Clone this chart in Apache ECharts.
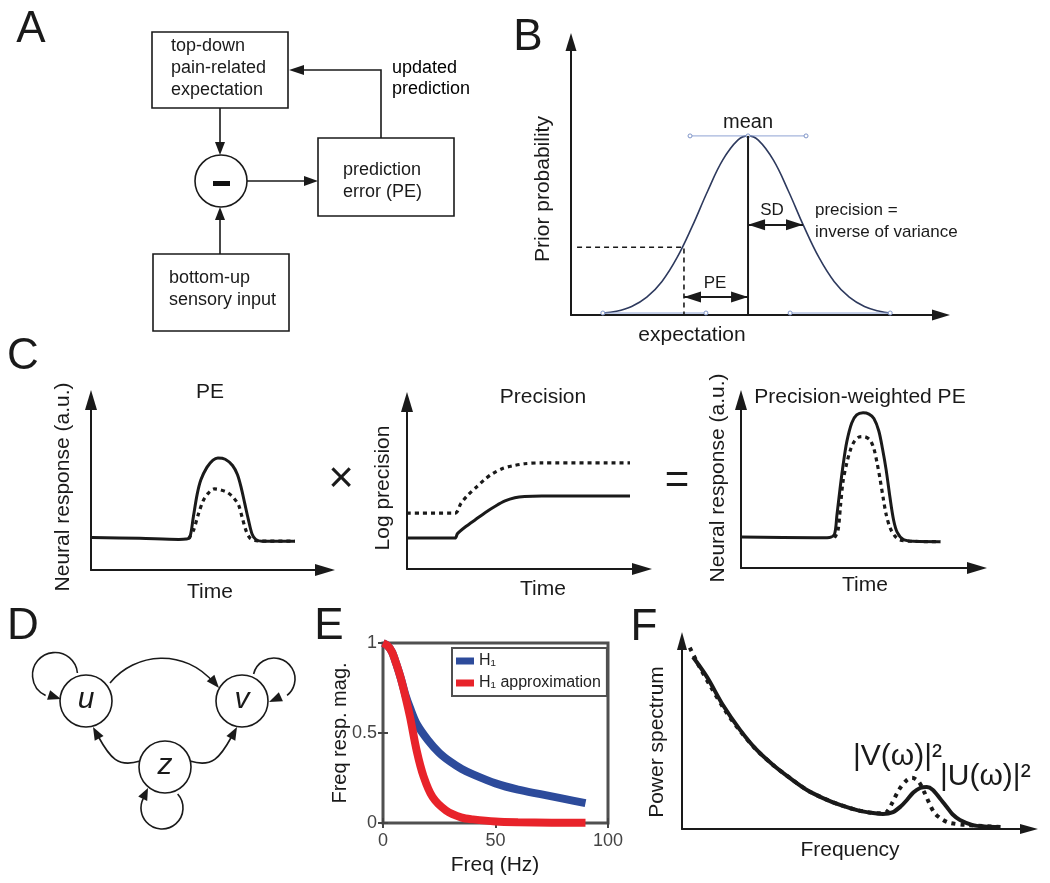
<!DOCTYPE html>
<html><head><meta charset="utf-8">
<script src="https://cdn.jsdelivr.net/npm/echarts@6/dist/echarts.min.js"></script>
<style>html,body{margin:0;padding:0;background:#fff}#c{width:1050px;height:883px}</style>
</head><body><div id="c"></div>
<script>
// ---------- DATA ----------
// Panel B: prior distribution
const priorX = [8.4,12,16,20,24,28,32,36,40,44,46.7,49.4,53.4,57.4,61.4,65.4,69.4,73.4,77.4,81.4,84.2];
const priorY = [0.7,1.3,3.0,6.3,11.9,20.4,31.5,43.8,54.9,62.0,63.5,62.0,54.9,43.8,31.5,20.4,11.9,6.3,3.0,1.3,0.7];
const handleTop = [[31.4,63.5],[46.7,63.5],[62,63.5]];
const handleLeft = [[8.4,0.7],[35.6,0.7]];
const handleRight = [[57.8,0.7],[84.2,0.7]];
const meanX = 46.7, meanY = 63.5;
const expectX = 29.8, expectY = 24, expectStartX = 1.6;
const peArrowY = 6.4, sdArrowY = 32, sdEndX = 61.2;

// Panel C: PE
const pe1Solid = [[0.4,18],[20,17.6],[36,17],[39,17.2],[40.5,18],[42,30],[43.5,42],[45,50],[47.5,57],[50,61],[52,62.2],[55,61.5],[58,58],[60,53],[61.5,46],[63,37],[64.5,28],[66,20],[67.5,17],[70,16],[83.6,16]];
const pe1Dashed = [[40,17.5],[42,22],[44,31],[46,38.5],[48,42.5],[50.5,45],[53,44.5],[56,43],[58.5,40],[60.5,36],[62,29],[63.5,22],[65,18],[67,16.5],[70,16],[83.6,16]];
// Panel C: precision
const precSolid = [[0,17.5],[19.6,17.5],[20.6,20],[24,24],[28,28],[32,32],[36,35.5],[40,38.5],[44,40.3],[48,41],[55,41.3],[91,41.3]];
const precDashed = [[0,31.6],[19.6,31.6],[22,37],[25,42],[28.5,46.5],[32,51],[35,54],[39,56.8],[43,58.3],[48,59.5],[55,60],[91,60]];
// Panel C: precision-weighted PE
const pwSolid = [[0,17.4],[30,17],[36,17.2],[38,19],[39,30],[40.2,44],[41.5,58],[43,71],[45,81.5],[47,86],[49.6,87.2],[52,86.5],[54,84],[56,77],[57.5,67],[59,55],[60.5,40],[62,27],[63.5,20],[66,16],[70,15],[81,14.8]];
const pwDashed = [[38,17],[39.4,21],[40.5,36],[41.5,49],[43,59],[44.5,66.5],[46,71],[48,73.6],[50,73.8],[52.4,72],[54,67],[55.3,59],[56.5,50],[57.7,40],[59,30],[60.6,22.5],[62.5,18],[64.6,15.7],[70,15],[81,14.8]];

// Panel E: frequency response
const h1Freq = [0,2,4,6,8,10,12,15,20,25,30,35,40,50,60,70,80,90];
const h1Mag  = [1,0.985,0.95,0.88,0.8,0.71,0.64,0.55,0.46,0.39,0.34,0.3,0.27,0.22,0.185,0.16,0.135,0.11];
const h1aFreq = [0,2,4,6,8,10,12,15,18,22,28,35,40,50,60,75,90];
const h1aMag  = [1,0.985,0.95,0.88,0.8,0.7,0.59,0.4,0.26,0.145,0.07,0.03,0.02,0.008,0.004,0.002,0.001];
const eXTicks = [0, 50, 100];
const eYTicks = [0, 0.5, 1];

// Panel F: power spectra
const uSpec = [[3.1,87.3],[7,77.2],[11.5,62.9],[16.3,50.3],[21,40.1],[25.6,32.5],[30.3,25.9],[35.1,19.8],[39.6,15.7],[44.4,12.2],[49.2,9.6],[53.7,8.1],[56.5,7.6],[59.3,8.6],[61.5,11.5],[63.2,14.7],[65,18.5],[66.9,20.8],[68.8,21.3],[70.5,19.8],[72.5,15.5],[74.4,11.2],[76,7.5],[78.1,4.6],[81.7,2],[85,1.3],[89.3,1]];
const vSpec = [[2.2,92],[5,82],[8,72.5],[12,60.5],[16,50.5],[21,40],[25.6,32.5],[30.3,25.9],[35.1,19.8],[39.6,15.7],[44.4,12.2],[49.2,9.6],[53,8.3],[56,8],[57.6,8.8],[59,13],[61,20],[63,24.5],[64.6,26],[66.5,24],[68,19],[69.5,13],[71,8],[73,5],[75,3.2],[80,2],[90.2,1]];

// ---------- STYLE / HELPERS ----------
const FONT = "'Liberation Sans', Arial, sans-serif";
const INK = '#1a1a1a';
const zip = (xs, ys) => xs.map((x, i) => [x, ys[i]]);

function txt(x, y, s, size, o) {
  o = o || {};
  return {type:'text', x:x, y:y, rotation:o.rot || 0, z:50,
    style:{text:s, fontSize:size, fontFamily:FONT, fill:o.color || INK,
      fontStyle:o.italic ? 'italic' : 'normal', fontWeight:o.weight || 'normal',
      align:o.align || 'left', verticalAlign:'middle'}};
}
function head(tx, ty, ux, uy, L, W) {
  const n = Math.hypot(ux, uy); ux /= n; uy /= n;
  return {type:'polygon', z:50, shape:{points:[[tx,ty],[tx-ux*L-uy*W, ty-uy*L+ux*W],[tx-ux*L+uy*W, ty-uy*L-ux*W]]}, style:{fill:INK}};
}
function seg(pts) {
  return {type:'polyline', z:50, shape:{points:pts}, style:{stroke:INK, lineWidth:1.6, fill:null}};
}
function box(x, y, w, h) {
  return {type:'rect', z:49, shape:{x:x, y:y, width:w, height:h}, style:{fill:'#fff', stroke:INK, lineWidth:1.6}};
}
function circ(cx, cy, r) {
  return {type:'circle', z:49, shape:{cx:cx, cy:cy, r:r}, style:{fill:'#fff', stroke:INK, lineWidth:1.6}};
}
function bez(p0, c1, c2, p3) {
  return {type:'bezierCurve', z:50, shape:{x1:p0[0], y1:p0[1], cpx1:c1[0], cpy1:c1[1], cpx2:c2[0], cpy2:c2[1], x2:p3[0], y2:p3[1]},
    style:{stroke:INK, lineWidth:1.6, fill:null}};
}
function arc(cx, cy, r, a0, a1, cw) {
  return {type:'arc', z:50, shape:{cx:cx, cy:cy, r:r, startAngle:a0, endAngle:a1, clockwise:cw},
    style:{stroke:INK, lineWidth:1.6, fill:null}};
}

function arrowAxis(gridIndex, max, size) {
  return {type:'value', gridIndex:gridIndex, min:0, max:max,
    axisLine:{show:true, onZero:false, symbol:['none','triangle'], symbolSize:size, lineStyle:{color:INK, width:2}},
    axisTick:{show:false}, axisLabel:{show:false}, splitLine:{show:false}};
}
function line(xi, data, dashed, width, color) {
  return {type:'line', xAxisIndex:xi, yAxisIndex:xi, data:data, showSymbol:false, symbol:'none', smooth:0.3,
    lineStyle:{color:color || INK, width:width, type:dashed || 'solid', cap:'butt'}, silent:true, z:3};
}

// ---------- GRAPHICS (diagrams A, D and free text) ----------
const g = [];
// panel letters
[['A',31,30],['B',528,38],['C',23,357],['D',23,627],['E',329,627],['F',644,628]].forEach(l => g.push(txt(l[1], l[2], l[0], 44, {align:'center'})));

// Panel A
g.push(box(152,32,136,76), box(318,138,136,78), box(153,254,136,77), circ(221,181,26));
g.push({type:'rect', z:51, shape:{x:213, y:181, width:17, height:5}, style:{fill:'#111'}});
g.push(seg([[220,108],[220,144]]), head(220,155,0,1,13,5));
g.push(seg([[220,254],[220,218]]), head(220,207,0,-1,13,5));
g.push(seg([[247,181],[306,181]]), head(318,181,1,0,14,5));
g.push(seg([[381,138],[381,70],[300,70]]), head(289,70,-1,0,15,5));
g.push(txt(171,46,'top-down',18), txt(171,68,'pain-related',18), txt(171,90,'expectation',18));
g.push(txt(343,170,'prediction',18), txt(343,192,'error (PE)',18));
g.push(txt(169,278,'bottom-up',18), txt(169,300,'sensory input',18));
g.push(txt(392,68,'updated',18,{color:'#000'}), txt(392,89,'prediction',18,{color:'#000'}));

// Panel B text
g.push(txt(748,122,'mean',20,{align:'center'}));
g.push(txt(772,210,'SD',17,{align:'center'}));
g.push(txt(715,283,'PE',17,{align:'center'}));
g.push(txt(815,210,'precision =',17), txt(815,232,'inverse of variance',17));
g.push(txt(543,189,'Prior probability',21,{align:'center', rot:Math.PI/2}));
g.push(txt(692,335,'expectation',21,{align:'center'}));

// Panel C text
g.push(txt(210,392,'PE',21,{align:'center'}));
g.push(txt(543,397,'Precision',21,{align:'center'}));
g.push(txt(860,397,'Precision-weighted PE',21,{align:'center'}));
g.push(txt(210,592,'Time',21,{align:'center'}), txt(543,589,'Time',21,{align:'center'}), txt(865,585,'Time',21,{align:'center'}));
g.push(txt(63,487,'Neural response (a.u.)',21,{align:'center', rot:Math.PI/2}));
g.push(txt(383,488,'Log precision',21,{align:'center', rot:Math.PI/2}));
g.push(txt(718,478,'Neural response (a.u.)',21,{align:'center', rot:Math.PI/2}));
g.push(txt(341,480,'×',44,{align:'center'}), txt(677,481,'=',42,{align:'center'}));

// Panel D
g.push(circ(86,701,26), circ(242,701,26), circ(165,767,26));
g.push(txt(86,700,'u',30,{align:'center', italic:true}), txt(242,700,'v',30,{align:'center', italic:true}), txt(165,766,'z',30,{align:'center', italic:true}));
g.push(bez([110,683],[135,652],[185,648],[214,683]), head(219,688,0.65,0.76,13,5));
// self loops
g.push(arc(55,675,22.5,-0.09,2.0-2*Math.PI,false), head(61,699,0.95,0.3,13,5));
g.push(arc(274,679,21,-2.9,0.9,true), head(269,702,-0.914,0.406,13,5));
g.push(arc(162,808,21,-0.73,3.6,true), head(148,788,0.44,-0.896,12,5));
// z -> u, z -> v
g.push(bez([140,761],[118,768],[110,758],[98,736]), head(93,727,-0.47,-0.88,13,5));
g.push(bez([190,761],[212,768],[220,758],[232,736]), head(237,727,0.47,-0.88,13,5));

// Panel E text
g.push(txt(495,865,'Freq (Hz)',21,{align:'center'}));
g.push(txt(340,733,'Freq resp. mag.',20,{align:'center', rot:Math.PI/2}));

// Panel F text
g.push(txt(850,850,'Frequency',21,{align:'center'}));
g.push(txt(657,742,'Power spectrum',21,{align:'center', rot:Math.PI/2}));
g.push(txt(853,757,'|V(ω)|²',30), txt(940,777,'|U(ω)|²',30));

// ---------- OPTION ----------
const eAxisStyle = {axisLine:{show:false}, splitLine:{show:false},
  axisTick:{show:true, inside:true, length:5, lineStyle:{color:'#444', width:2}}};

const option = {
  animation:false, backgroundColor:'#fff',
  textStyle:{fontFamily:FONT},
  grid:[
    {left:571, top:42, width:370, height:273},
    {left:91, top:400, width:234, height:170},
    {left:407, top:402, width:235, height:167},
    {left:741, top:400, width:236, height:168},
    {left:383, top:643, width:225, height:180, show:true, borderColor:'#505050', borderWidth:3, backgroundColor:'transparent'},
    {left:682, top:641, width:347, height:188}
  ],
  xAxis:[
    arrowAxis(0, 97.6, [11,18]),
    arrowAxis(1, 95.9, [12,20]),
    arrowAxis(2, 95.9, [12,20]),
    arrowAxis(3, 95.9, [12,20]),
    Object.assign({type:'value', gridIndex:4, min:eXTicks[0], max:eXTicks[2], interval:eXTicks[1]-eXTicks[0],
      axisLabel:{color:'#444', fontSize:18, margin:9, fontFamily:FONT}}, eAxisStyle),
    arrowAxis(5, 97.5, [10,18]),
    Object.assign({type:'value', gridIndex:4, position:'top', min:eXTicks[0], max:eXTicks[2], interval:eXTicks[1]-eXTicks[0], axisLabel:{show:false}}, eAxisStyle)
  ],
  yAxis:[
    arrowAxis(0, 96.8, [11,18]),
    arrowAxis(1, 94.4, [12,20]),
    arrowAxis(2, 94.4, [12,20]),
    arrowAxis(3, 94.4, [12,20]),
    Object.assign({type:'value', gridIndex:4, min:eYTicks[0], max:eYTicks[2], interval:eYTicks[1]-eYTicks[0],
      axisLabel:{color:'#444', fontSize:18, margin:6, fontFamily:FONT}}, eAxisStyle),
    arrowAxis(5, 95.4, [10,18]),
    Object.assign({type:'value', gridIndex:4, position:'right', min:eYTicks[0], max:eYTicks[2], interval:eYTicks[1]-eYTicks[0], axisLabel:{show:false}}, eAxisStyle)
  ],
  legend:{left:452, top:648, orient:'vertical', data:['H₁','H₁ approximation'], icon:'rect',
    itemWidth:18, itemHeight:7, itemGap:6, padding:[5,6,5,4], borderColor:'#505050', borderWidth:2,
    backgroundColor:'#fff', textStyle:{fontSize:16, color:'#222', fontFamily:FONT}},
  graphic:{elements:g},
  series:[
    // B
    {type:'line', xAxisIndex:0, yAxisIndex:0, data:zip(priorX, priorY), smooth:0.4, symbol:'none',
      lineStyle:{color:'#2e3a5e', width:1.6}, z:3, silent:true},
    {type:'line', xAxisIndex:0, yAxisIndex:0, data:handleTop, symbol:'circle', symbolSize:4,
      itemStyle:{color:'#fff', borderColor:'#7f95c8', borderWidth:1}, lineStyle:{color:'#8ea2d4', width:1}, z:4, silent:true},
    {type:'line', xAxisIndex:0, yAxisIndex:0, data:handleLeft, symbol:'circle', symbolSize:4,
      itemStyle:{color:'#fff', borderColor:'#7f95c8', borderWidth:1}, lineStyle:{color:'#8ea2d4', width:1}, z:4, silent:true},
    {type:'line', xAxisIndex:0, yAxisIndex:0, data:handleRight, symbol:'circle', symbolSize:4,
      itemStyle:{color:'#fff', borderColor:'#7f95c8', borderWidth:1}, lineStyle:{color:'#8ea2d4', width:1}, z:4, silent:true},
    {type:'line', xAxisIndex:0, yAxisIndex:0, data:[[meanX,0],[meanX,meanY]], symbol:'none',
      lineStyle:{color:INK, width:2}, z:5, silent:true,
      markLine:{silent:true, animation:false, symbol:['triangle','triangle'], symbolSize:[11,17], symbolOffset:[[0,8.5],[0,8.5]],
        lineStyle:{color:INK, width:2, type:'solid'}, label:{show:false}, emphasis:{disabled:true},
        data:[[{coord:[expectX,peArrowY]},{coord:[meanX,peArrowY]}],[{coord:[meanX,sdArrowY]},{coord:[sdEndX,sdArrowY]}]]}},
    {type:'line', xAxisIndex:0, yAxisIndex:0, data:[[expectStartX,expectY],[expectX,expectY],[expectX,0]], symbol:'none',
      lineStyle:{color:INK, width:1.6, type:[5,4]}, z:5, silent:true},
    // C
    line(1, pe1Solid, 'solid', 3),
    line(1, pe1Dashed, [4,4], 3.2),
    line(2, precSolid, 'solid', 3),
    line(2, precDashed, [4,4], 3.2),
    line(3, pwSolid, 'solid', 3),
    line(3, pwDashed, [4,4], 3.2),
    // E
    {name:'H₁', type:'line', xAxisIndex:4, yAxisIndex:4, data:zip(h1Freq, h1Mag), smooth:0.3, symbol:'none',
      lineStyle:{color:'#2d4b9b', width:8}, itemStyle:{color:'#2d4b9b'}, z:3, silent:true},
    {name:'H₁ approximation', type:'line', xAxisIndex:4, yAxisIndex:4, data:zip(h1aFreq, h1aMag), smooth:0.3, symbol:'none',
      lineStyle:{color:'#e8232a', width:8}, itemStyle:{color:'#e8232a'}, z:4, silent:true},
    // F
    line(5, uSpec, 'solid', 4),
    line(5, vSpec, [4,5], 4)
  ]
};
const chart = echarts.init(document.getElementById('c'), null, {renderer:'canvas'});
chart.setOption(option);
</script>
</body></html>
